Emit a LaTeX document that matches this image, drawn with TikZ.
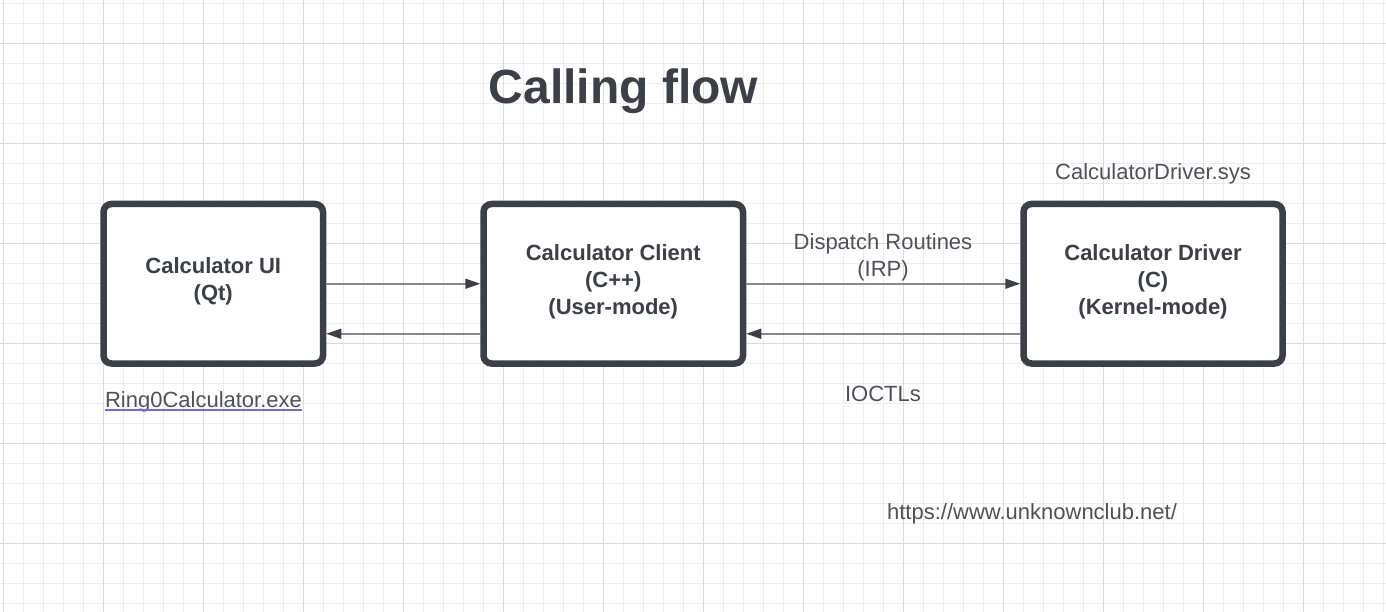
\documentclass[tikz,border=0pt]{standalone}
\usepackage{fontspec}
\setmainfont{Liberation Sans}
\usetikzlibrary{arrows.meta}
\definecolor{ink}{HTML}{3A3F48}
\definecolor{labelgray}{HTML}{4D525A}
\definecolor{wiregray}{HTML}{868A90}
\definecolor{gridminor}{HTML}{EDEDED}
\definecolor{gridmajor}{HTML}{DCDCDC}
\definecolor{linkblue}{HTML}{6A6AF0}
\newcommand{\lowpad}{\rule[-9pt]{0pt}{9pt}}
\tikzset{
  block/.style={draw=ink, line width=6.5pt, rounded corners=8pt, fill=white,
    minimum height=159.5pt, inner sep=0pt, align=center, text=ink,
    font=\fontsize{22}{27}\selectfont\bfseries},
  note/.style={inner sep=0pt, align=center, text=labelgray,
    font=\fontsize{22}{27}\selectfont},
  flow/.style={draw=wiregray, line width=1.5pt,
    -{Triangle[length=15pt,width=10pt,color=ink]}},
}
\begin{document}
\begin{tikzpicture}[x=1pt,y=-1pt]
    \fill[white] (0,0) rectangle (1386,612);
    \useasboundingbox (0,0) rectangle (1386,612);

    \foreach \gx in {3.5,23.5,...,1383.5}
        \draw[gridminor, line width=1pt] (\gx,0) -- (\gx,612);
    \foreach \gy in {3.5,23.5,...,603.5}
        \draw[gridminor, line width=1pt] (0,\gy) -- (1386,\gy);
    \foreach \gx in {3.5,103.5,...,1303.5}
        \draw[gridmajor, line width=1pt] (\gx,0) -- (\gx,612);
    \foreach \gy in {43.5,143.5,...,543.5}
        \draw[gridmajor, line width=1pt] (0,\gy) -- (1386,\gy);

    \node[inner sep=0pt, anchor=base, text=ink, font=\fontsize{48}{56}\selectfont\bfseries]
        (title) at (623.5,104) {Calling flow};

    \node[block, minimum width=219.5pt] (ui) at (213.25,283.75) {Calculator UI\\(Qt)\lowpad};
    \node[block, minimum width=259.5pt] (client) at (613.25,283.75) {Calculator Client\\(C++)\\(User-mode)\lowpad};
    \node[block, minimum width=259pt] (driver) at (1153,283.75) {Calculator Driver\\(C)\\(Kernel-mode)\lowpad};

    \draw[flow] (ui.east) -- (client.west);
    \draw[flow] ([yshift=-50pt]client.west) -- ([yshift=-50pt]ui.east);

    \draw[flow] (client.east) -- (driver.west);
    \draw[flow] ([yshift=-50pt]driver.west) -- ([yshift=-50pt]client.east);

    \node[note] (irp) at (883,257) {Dispatch Routines\\(IRP)};
    \node[note, anchor=base] (ioctl) at (883,401) {IOCTLs};
    \node[note, anchor=base] (sysname) at (1153,180) {CalculatorDriver.sys};
    \node[note, anchor=base] (exename) at (203.5,407.5) {Ring0Calculator.exe};
    \draw[linkblue, line width=1.3pt] ([yshift=-2.5pt]exename.base west) -- ([yshift=-2.5pt]exename.base east);
    \node[note, anchor=base] (site) at (1032,519) {https://www.unknownclub.net/};
\end{tikzpicture}
\end{document}
